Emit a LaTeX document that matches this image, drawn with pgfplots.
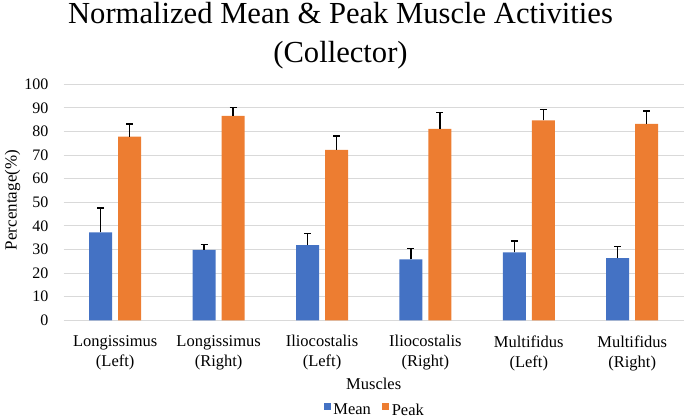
\documentclass[border=0pt]{standalone}
\usepackage{fontspec}
\setmainfont{Liberation Serif}
\usepackage{pgfplots}
\pgfplotsset{compat=1.18}
\definecolor{cblue}{HTML}{4472C4}
\definecolor{corange}{HTML}{ED7D31}
\definecolor{cgrid}{HTML}{D9D9D9}
\begin{document}
\begin{tikzpicture}[x=1pt,y=1pt]
\path[use as bounding box] (0,0) rectangle (685,419);
\begin{axis}[
  at={(63.5pt,98.7pt)}, anchor=south west,
  scale only axis, width=620.4pt, height=236pt,
  ybar=6pt, bar width=23pt,
  xmin=-0.5, xmax=5.5, ymin=0, ymax=100,
  ytick={0,10,...,100},
  xtick={0,1,2,3,4,5},
  xticklabels={{Longissimus\\(Left)},{Longissimus\\(Right)},{Iliocostalis\\(Left)},{Iliocostalis\\(Right)},{Multifidus\\(Left)},{Multifidus\\(Right)}},
  xticklabel style={align=center, font=\fontsize{16.5}{20}\selectfont, anchor=north, inner sep=0pt, yshift=-15pt},
  yticklabel style={font=\fontsize{16}{19}\selectfont, anchor=east, inner sep=0pt, xshift=-15pt},
  /pgf/number format/assume math mode=true,
  ymajorgrids, grid style={cgrid, line width=1pt},
  axis line style={draw=none},
  major tick length=0pt,
  error bars/y dir=plus, error bars/y explicit,
  error bars/error bar style={black, line width=1.5pt},
  error bars/error mark options={black, line width=1.5pt, mark size=3.5pt, rotate=90},
  legend style={draw=none, at={(0.5,-0.418)}, anchor=south, font=\fontsize{16.5}{20}\selectfont,
    nodes={inner sep=0pt},
    /tikz/every odd column/.append style={column sep=2.5pt},
    /tikz/every even column/.append style={column sep=11pt}},
  legend columns=2,
  legend image code/.code={\fill[#1] (0pt,0pt) rectangle (7.3pt,7.3pt);},
]
\addplot[fill=cblue, draw=none] coordinates {
  (0,37.3) +- (0,10.3)
  (1,29.8) +- (0,2.4)
  (2,31.9) +- (0,4.8)
  (3,25.8) +- (0,4.7)
  (4,28.8) +- (0,4.7)
  (5,26.3) +- (0,4.9)
};
\addplot[fill=corange, draw=none] coordinates {
  (0,77.8) +- (0,5.4)
  (1,86.6) +- (0,3.5)
  (2,72.2) +- (0,5.9)
  (3,81.1) +- (0,6.9)
  (4,84.7) +- (0,4.6)
  (5,83.2) +- (0,5.4)
};
\legend{Mean,Peak}
\end{axis}
\node[anchor=base, font=\fontsize{30.6}{36}\selectfont] at (340.5,395.5) {Normalized Mean \& Peak Muscle Activities};
\node[anchor=base, font=\fontsize{30.6}{36}\selectfont] at (340.5,356) {(Collector)};
\node[anchor=base, font=\fontsize{16.5}{20}\selectfont] at (373.7,29) {Muscles};
\node[rotate=90, font=\fontsize{17}{20}\selectfont] at (12.5,219) {Percentage(\%)};
\end{tikzpicture}
\end{document}
